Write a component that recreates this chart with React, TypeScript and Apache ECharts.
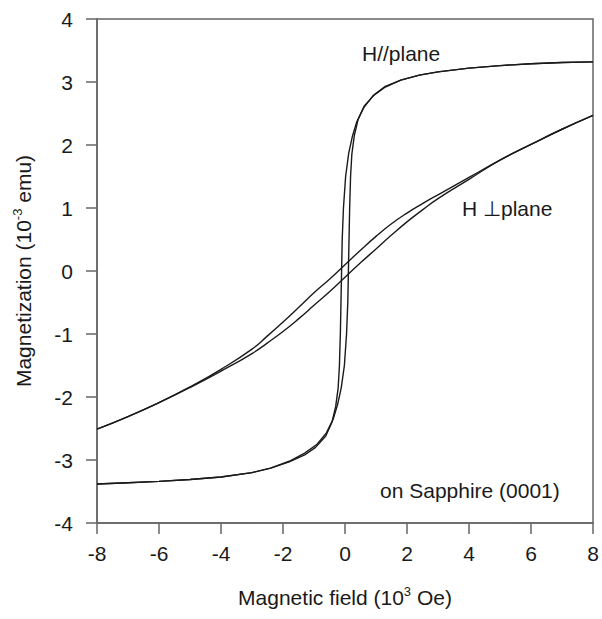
import React, { useEffect, useRef } from "react";
import * as echarts from "echarts";

// Axis ranges / ticks (10^3 Oe and 10^-3 emu)
const xMin = -8;
const xMax = 8;
const xStep = 2;
const yMin = -4;
const yMax = 4;
const yStep = 1;

// H // plane : branch swept from -8 to +8
const parallelAscending: [number, number][] = [
  [-8, -3.38], [-7, -3.36], [-6, -3.34], [-5, -3.31], [-4, -3.27], [-3, -3.2],
  [-2.4, -3.13], [-1.8, -3.02], [-1.3, -2.89], [-0.9, -2.75], [-0.6, -2.57],
  [-0.38, -2.35], [-0.24, -2.12], [-0.12, -1.85], [-0.02, -1.5], [0.05, -1.0],
  [0.09, -0.5], [0.11, 0], [0.13, 0.5], [0.15, 1.0], [0.18, 1.5], [0.22, 1.85],
  [0.3, 2.15], [0.42, 2.4], [0.62, 2.62], [0.95, 2.8], [1.3, 2.93], [1.8, 3.03],
  [2.4, 3.11], [3, 3.16], [4, 3.22], [5, 3.26], [6, 3.29], [7, 3.31], [8, 3.32],
];

// H // plane : branch swept from +8 to -8
const parallelDescending: [number, number][] = [
  [8, 3.32], [7, 3.31], [6, 3.29], [5, 3.26], [4, 3.22], [3, 3.16], [2.4, 3.11],
  [1.8, 3.03], [1.3, 2.92], [0.9, 2.78], [0.6, 2.59], [0.38, 2.37], [0.24, 2.14],
  [0.12, 1.87], [0.02, 1.5], [-0.05, 1.0], [-0.09, 0.5], [-0.11, 0],
  [-0.13, -0.5], [-0.15, -1.0], [-0.18, -1.5], [-0.22, -1.85], [-0.3, -2.15],
  [-0.42, -2.4], [-0.62, -2.62], [-0.95, -2.8], [-1.3, -2.92], [-1.8, -3.03],
  [-2.4, -3.13], [-3, -3.2], [-4, -3.27], [-5, -3.31], [-6, -3.34], [-7, -3.36],
  [-8, -3.38],
];

// H ⊥ plane : branch swept from +8 to -8
const perpDescending: [number, number][] = [
  [8, 2.47], [7, 2.25], [6, 2.01], [5, 1.76], [4, 1.485], [3, 1.21], [2.5, 1.07],
  [2, 0.92], [1.5, 0.75], [1, 0.55], [0.5, 0.33], [0, 0.1], [-0.5, -0.13],
  [-1, -0.345], [-1.5, -0.58], [-2, -0.81], [-2.5, -1.03], [-3, -1.24],
  [-4, -1.56], [-5, -1.84], [-6, -2.09], [-7, -2.31], [-8, -2.51],
];

// H ⊥ plane : branch swept from -8 to +8
const perpAscending: [number, number][] = [
  [-8, -2.51], [-7, -2.31], [-6, -2.09], [-5, -1.85], [-4, -1.59], [-3, -1.31],
  [-2.5, -1.14], [-2, -0.96], [-1.5, -0.76], [-1, -0.545], [-0.5, -0.33],
  [0, -0.1], [0.5, 0.13], [1, 0.35], [1.5, 0.57], [2, 0.78], [2.5, 0.97],
  [3, 1.15], [4, 1.455], [5, 1.76], [6, 2.01], [7, 2.25], [8, 2.47],
];

const annotations = ["H//plane", "H \u22a5plane", "on Sapphire (0001)"];

const FONT = "'Liberation Sans', Arial, Helvetica, sans-serif";
const INK = "#1a1a1a";
const AXIS = "#666666";

export default function App() {
  const ref = useRef<HTMLDivElement>(null);

  useEffect(() => {
    if (!ref.current) return;
    const chart = echarts.init(ref.current, null, { renderer: "svg" });

    const lineSeries = (data: [number, number][], smooth: boolean | number) => ({
      type: "line",
      data,
      showSymbol: false,
      symbol: "none",
      smooth,
      lineStyle: { color: INK, width: 1.4 },
      silent: true,
    });

    const titleRich = {
      m: { fontSize: 21, fontFamily: FONT, color: INK, verticalAlign: "bottom", lineHeight: 23 },
      s: { fontSize: 13, fontFamily: FONT, color: INK, verticalAlign: "top", lineHeight: 23 },
    };

    chart.setOption({
      animation: false,
      backgroundColor: "#ffffff",
      textStyle: { fontFamily: FONT },
      grid: {
        left: 97,
        right: 9,
        top: 19,
        bottom: 96,
        show: true,
        borderColor: AXIS,
        borderWidth: 1.5,
        backgroundColor: "transparent",
      },
      xAxis: {
        type: "value",
        min: xMin,
        max: xMax,
        interval: xStep,
        name: "{m|Magnetic field (10}{s|3}{m| Oe)}",
        nameLocation: "middle",
        nameGap: 62,
        nameTextStyle: { fontFamily: FONT, color: INK, rich: titleRich },
        axisLine: { show: true, onZero: false, lineStyle: { color: AXIS, width: 1.5 } },
        axisTick: { show: true, inside: false, length: 11, lineStyle: { color: AXIS, width: 1.5 } },
        axisLabel: { fontSize: 21, color: INK, margin: 20, fontFamily: FONT },
        splitLine: { show: false },
      },
      yAxis: {
        type: "value",
        min: yMin,
        max: yMax,
        interval: yStep,
        name: "{m|Magnetization (10}{s|-3}{m| emu)}",
        nameLocation: "middle",
        nameGap: 63,
        nameTextStyle: { fontFamily: FONT, color: INK, rich: titleRich },
        axisLine: { show: true, onZero: false, lineStyle: { color: AXIS, width: 1.5 } },
        axisTick: { show: true, inside: false, length: 11, lineStyle: { color: AXIS, width: 1.5 } },
        axisLabel: { fontSize: 21, color: INK, margin: 24, fontFamily: FONT },
        splitLine: { show: false },
      },
      graphic: [
        {
          type: "text",
          left: 362,
          top: 43,
          style: { text: annotations[0], font: `21px ${FONT}`, fill: INK },
          silent: true,
        },
        {
          type: "text",
          left: 462,
          top: 198,
          style: { text: annotations[1], font: `21px ${FONT}`, fill: INK },
          silent: true,
        },
        {
          type: "text",
          left: 380,
          top: 480,
          style: { text: annotations[2], font: `21px ${FONT}`, fill: INK },
          silent: true,
        },
      ],
      series: [
        lineSeries(parallelAscending, false),
        lineSeries(parallelDescending, false),
        lineSeries(perpDescending, 0.5),
        lineSeries(perpAscending, 0.5),
      ],
    });

    return () => chart.dispose();
  }, []);

  return (
    <div
      ref={ref}
      style={{ position: "absolute", left: 0, top: 0, width: 602, height: 619, background: "#fff" }}
    />
  );
}
